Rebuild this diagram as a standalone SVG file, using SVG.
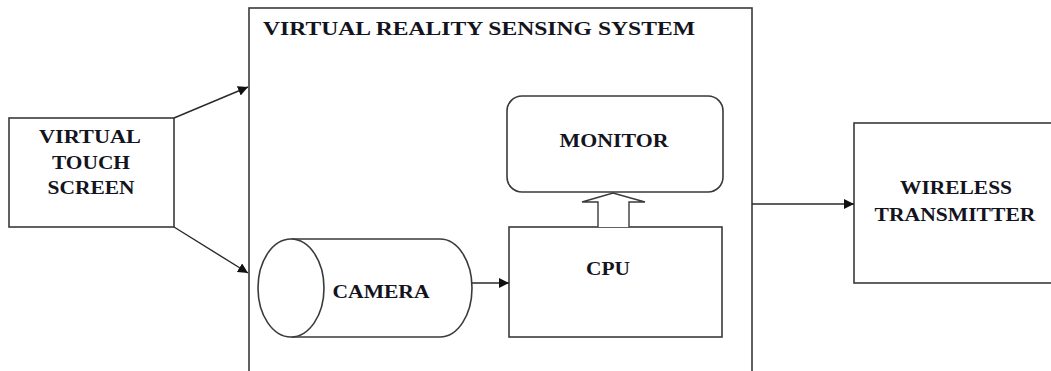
<svg xmlns="http://www.w3.org/2000/svg" width="1051" height="371" viewBox="0 0 1051 371">
<style>
.box{fill:#fff;stroke:#3a3a3a;stroke-width:1.6}
.ln{fill:none;stroke:#2a2a2a;stroke-width:1.4}
.t{font-family:"Liberation Serif","Times New Roman",serif;font-weight:bold;font-size:19px;fill:#141420;text-anchor:middle}
.tt{font-family:"Liberation Serif","Times New Roman",serif;font-weight:bold;font-size:19px;fill:#141420}
</style>
<defs>
<marker id="ah" viewBox="0 0 10 10" refX="10" refY="5" markerWidth="10" markerHeight="10" markerUnits="userSpaceOnUse" orient="auto">
<path d="M0,0 L10,5 L0,10 Z" fill="#111"/>
</marker>
</defs>
<rect width="1051" height="371" fill="#fff"/>
<g id="system">
<rect class="box" x="249" y="8" width="503" height="380"/>
<text class="tt" x="263" y="35" textLength="432" lengthAdjust="spacingAndGlyphs">VIRTUAL REALITY SENSING SYSTEM</text>
</g>
<g id="touchscreen">
<rect class="box" x="9" y="118" width="165" height="109"/>
<text class="t" x="90" y="143" textLength="102" lengthAdjust="spacingAndGlyphs">VIRTUAL</text>
<text class="t" x="91" y="169" textLength="78" lengthAdjust="spacingAndGlyphs">TOUCH</text>
<text class="t" x="91" y="194" textLength="87" lengthAdjust="spacingAndGlyphs">SCREEN</text>
</g>
<g id="camera">
<path class="box" d="M292,239 L440,239 A32,49 0 0 1 440,337 L292,337 Z"/>
<ellipse class="box" cx="291" cy="288" rx="33" ry="49"/>
<text class="t" x="381" y="298" textLength="97" lengthAdjust="spacingAndGlyphs">CAMERA</text>
</g>
<g id="cpu">
<rect class="box" x="509" y="227" width="213" height="110"/>
<text class="t" x="608" y="275" textLength="44" lengthAdjust="spacingAndGlyphs">CPU</text>
</g>
<g id="monitor">
<rect class="box" x="507" y="96" width="216" height="96" rx="15" ry="15"/>
<text class="t" x="614" y="147" textLength="109" lengthAdjust="spacingAndGlyphs">MONITOR</text>
</g>
<g id="transmitter">
<rect class="box" x="854" y="123" width="210" height="160"/>
<text class="t" x="956" y="194" textLength="112" lengthAdjust="spacingAndGlyphs">WIRELESS</text>
<text class="t" x="955" y="221" textLength="161" lengthAdjust="spacingAndGlyphs">TRANSMITTER</text>
</g>
<g id="connectors">
<line class="ln" x1="174" y1="118" x2="248" y2="87" marker-end="url(#ah)"/>
<line class="ln" x1="174" y1="227" x2="248" y2="273" marker-end="url(#ah)"/>
<line class="ln" x1="472" y1="283" x2="509" y2="283" marker-end="url(#ah)"/>
<line class="ln" x1="752" y1="204" x2="854" y2="204" marker-end="url(#ah)"/>
<path fill="#fff" stroke="#3a3a3a" stroke-width="1.4" d="M598,227 L598,202 L582,202 L613,193 L645,202 L629,202 L629,227"/>
</g>
</svg>
